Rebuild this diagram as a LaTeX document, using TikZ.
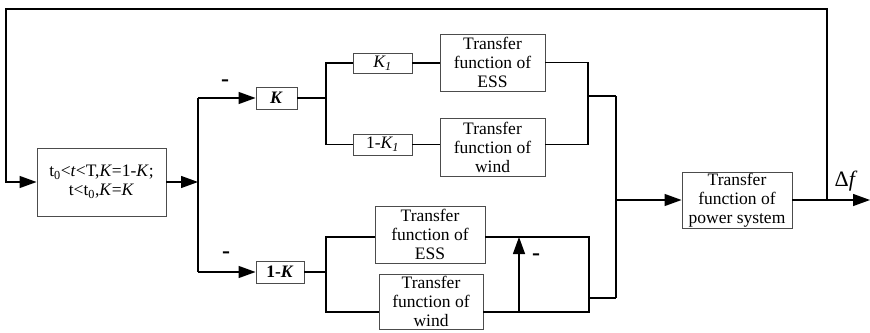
\documentclass[tikz,border=0pt]{standalone}
\usepackage{fontspec}
\setmainfont{Liberation Serif}
\usetikzlibrary{arrows.meta}

\tikzstyle{block}=[draw=black!70,line width=0.9pt,fill=white,inner sep=0pt,align=center,font=\fontsize{17.5}{19}\selectfont]
\tikzstyle{wire}=[line width=1.3pt]
\tikzstyle{sig}=[wire,-{Triangle[length=17pt,width=12pt]}]
\tikzstyle{minus}=[font=\fontsize{24}{24}\selectfont\bfseries]

\begin{document}
\begin{tikzpicture}[x=1pt,y=-1pt]
        \useasboundingbox (0,0) rectangle (870,332);

        % switching block and gains
        \node[block,minimum width=129pt,minimum height=68pt] (ctrl) at (101.5,182)
            {t\textsubscript{0}<\textit{t}<T,\textit{K}=1-\textit{K};\\t<t\textsubscript{0},\textit{K}=\textit{K}};
        \node[block,minimum width=41pt,minimum height=22pt] (gK)   at (276.5,98)  {\textbf{\textit{K}}};
        \node[block,minimum width=48pt,minimum height=22pt] (gKm)  at (280,272)   {\textbf{1-\textit{K}}};
        \node[block,minimum width=59pt,minimum height=20pt] (gK1)  at (382.5,63)  {\textit{K\textsubscript{1}}};
        \node[block,minimum width=59pt,minimum height=21pt] (gK1m) at (382.5,144.5) {1-\textit{K\textsubscript{1}}};

        % transfer functions
        \node[block,minimum width=105pt,minimum height=57pt] (essA)  at (492.5,62.5) {Transfer\\function of\\ESS};
        \node[block,minimum width=105pt,minimum height=58pt] (windA) at (492.5,147)  {Transfer\\function of\\wind};
        \node[block,minimum width=110pt,minimum height=57pt] (essB)  at (430,234.5)  {Transfer\\function of\\ESS};
        \node[block,minimum width=104pt,minimum height=55pt] (windB) at (431,301.5)  {Transfer\\function of\\wind};
        \node[block,minimum width=110pt,minimum height=56pt] (psys)  at (737,200)    {Transfer\\function of\\power system};

        % junctions
        \coordinate (busA) at (198,182);
        \coordinate (busT) at (198,98);
        \coordinate (busB) at (198,272);
        \coordinate (splA) at (326,98);
        \coordinate (splB) at (326,272);
        \coordinate (inB1) at (326,237);
        \coordinate (inB2) at (326,312);
        \coordinate (sumA) at (588,96);
        \coordinate (outB1) at (589,237);
        \coordinate (outB2) at (589,312);
        \coordinate (sumB) at (589,298);
        \coordinate (subB) at (519,312);
        \coordinate (busRT) at (616,96);
        \coordinate (busRB) at (616,298);
        \coordinate (busRM) at (616,200);
        \coordinate (fbR) at (827,200);
        \coordinate (fbTL) at (6,9);
        \coordinate (out) at (870,200);

        % feedback and input side
        \draw [sig] (fbR) |- (fbTL) |- (ctrl.west);
        \draw [sig] (ctrl.east) -- (busA);
        \draw [wire] (busT) -- (busB);
        \draw [sig] (busT) -- (gK.west);
        \draw [sig] (busB) -- (gKm.west);
        \node[minus] at (225,83) {-};
        \node[minus] at (226,255) {-};

        % upper branch
        \draw [wire] (gK.east) -- (splA);
        \draw [wire] (gK1.west) -| (splA) |- (gK1m.west);
        \draw [wire] (gK1.east) -- (gK1.east -| essA.west);
        \draw [wire] (gK1m.east) -- (gK1m.east -| windA.west);
        \draw [wire] (essA.east) -| (sumA) |- (gK1m.east -| windA.east);
        \draw [wire] (sumA) -- (busRT);

        % lower branch
        \draw [wire] (gKm.east) -- (splB);
        \draw [wire] (inB1 -| essB.west) -- (inB1) -- (inB2) -- (inB2 -| windB.west);
        \draw [wire] (inB1 -| essB.east) -- (outB1) -- (outB2) -- (outB2 -| windB.east);
        \draw [sig] (subB) -- (subB |- outB1);
        \node[minus] at (536,257) {-};
        \draw [wire] (sumB) -- (busRB);

        % output side
        \draw [wire] (busRT) -- (busRB);
        \draw [sig] (busRM) -- (psys.west);
        \draw [sig] (psys.east) -- (out);
        \node[font=\fontsize{22}{22}\selectfont] (df) at (846,181) {Δ\textit{f}};
    \end{tikzpicture}
\end{document}
